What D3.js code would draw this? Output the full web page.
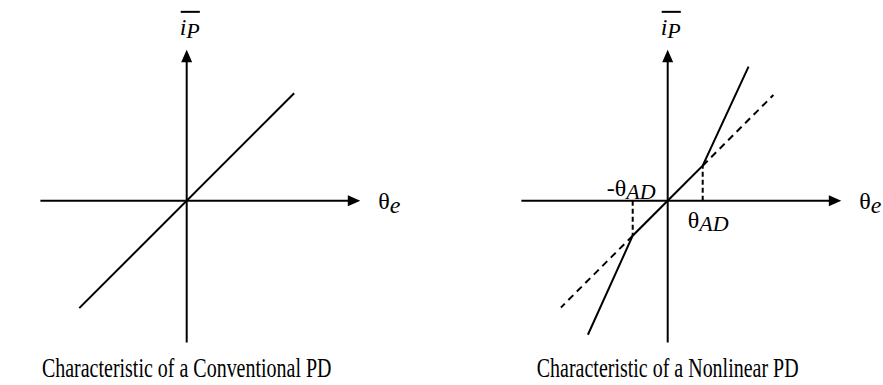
<!DOCTYPE html>
<html>
<head>
<meta charset="utf-8">
<script src="https://cdn.jsdelivr.net/npm/d3@7"></script>
<style>
  html, body { margin: 0; padding: 0; background: #fff; }
  svg { display: block; }
</style>
</head>
<body>
<svg id="chart" width="883" height="385"></svg>
<script>
// Phase-detector characteristics, in units of the dead-zone angle θ_AD.
const xAxisExtent = [-4.18, 4.96];
const yAxisExtent = [-4.05, 4.31];
const thetaAD = 1;

// Conventional PD: a single straight line through the origin.
const conventionalLine = [[-3.07, -3.07], [3.07, 3.07]];

// Nonlinear PD: unit gain inside ±θ_AD, steeper gain outside.
const nonlinearLine = [[-2.28, -3.83], [-thetaAD, -thetaAD], [thetaAD, thetaAD], [2.31, 3.83]];
// Continuation of the unit-gain line (dashed reference).
const dashedRefNeg = [[-thetaAD, -thetaAD], [-3.05, -3.05]];
const dashedRefPos = [[thetaAD, thetaAD], [3.02, 3.02]];
// Drop lines marking ±θ_AD.
const dropLines = [[[-thetaAD, 0], [-thetaAD, -thetaAD]], [[thetaAD, 0], [thetaAD, thetaAD]]];

const captions = ["Characteristic of a Conventional PD", "Characteristic of a Nonlinear PD"];

const FONT = '"Liberation Serif", "Times New Roman", serif';
const svg = d3.select("#chart");
const unit = 35;

function makePanel(originX, originY) {
  const x = d3.scaleLinear().domain([0, 1]).range([originX, originX + unit]);
  const y = d3.scaleLinear().domain([0, 1]).range([originY, originY - unit]);
  return { x, y, g: svg.append("g") };
}

function addText(g, x, y, size) {
  return g.append("text")
    .attr("x", x).attr("y", y)
    .attr("font-family", FONT)
    .attr("font-size", size)
    .attr("fill", "#000");
}

function drawAxes(p) {
  const { x, y, g } = p;
  const x0 = x(xAxisExtent[0]), x1 = x(xAxisExtent[1]);
  const y0 = y(yAxisExtent[0]), y1 = y(yAxisExtent[1]);
  const ah = 12.5, aw = 5.5;
  g.append("line")
    .attr("x1", x0).attr("y1", y(0)).attr("x2", x1 - ah + 1).attr("y2", y(0))
    .attr("stroke", "#000").attr("stroke-width", 2);
  g.append("path")
    .attr("d", `M${x1},${y(0)}L${x1 - ah},${y(0) - aw}L${x1 - ah},${y(0) + aw}Z`)
    .attr("fill", "#000");
  g.append("line")
    .attr("x1", x(0)).attr("y1", y0).attr("x2", x(0)).attr("y2", y1 + ah - 1)
    .attr("stroke", "#000").attr("stroke-width", 2);
  g.append("path")
    .attr("d", `M${x(0)},${y1}L${x(0) - aw},${y1 + ah}L${x(0) + aw},${y1 + ah}Z`)
    .attr("fill", "#000");

  // y-axis label: overlined i_P
  const lab = addText(g, x(0) - 7, y1 - 15, 24).attr("font-style", "italic");
  lab.append("tspan").text("i");
  lab.append("tspan").attr("dy", 3).attr("font-size", 22).text("P");
  const bb = lab.node().getBBox();
  g.append("line")
    .attr("x1", bb.x + 1).attr("x2", bb.x + bb.width)
    .attr("y1", y1 - 38).attr("y2", y1 - 38)
    .attr("stroke", "#000").attr("stroke-width", 2);

  // x-axis label: θ_e
  const xl = addText(g, x1 + 18, y(0) + 8, 24);
  xl.append("tspan").text("θ");
  xl.append("tspan").attr("dy", 4).attr("font-style", "italic").text("e");
}

function drawCaption(p, str) {
  const cg = p.g.append("g")
    .attr("transform", `translate(${p.x(0)},377) scale(0.74,1)`);
  addText(cg, 0, 0, 27).attr("text-anchor", "middle").text(str);
}

const line = d3.line();

// Left panel
const left = makePanel(186.7, 200.7);
drawAxes(left);
left.g.append("path")
  .attr("d", line(conventionalLine.map(d => [left.x(d[0]), left.y(d[1])])))
  .attr("fill", "none").attr("stroke", "#000").attr("stroke-width", 2);
drawCaption(left, captions[0]);

// Right panel
const right = makePanel(667.7, 200.7);
drawAxes(right);
right.g.append("path")
  .attr("d", line(nonlinearLine.map(d => [right.x(d[0]), right.y(d[1])])))
  .attr("fill", "none").attr("stroke", "#000").attr("stroke-width", 2);
[dashedRefNeg, dashedRefPos].forEach(seg => {
  right.g.append("path")
    .attr("d", line(seg.map(d => [right.x(d[0]), right.y(d[1])])))
    .attr("fill", "none").attr("stroke", "#000").attr("stroke-width", 2)
    .attr("stroke-dasharray", "7,5");
});
dropLines.forEach(seg => {
  right.g.append("path")
    .attr("d", line(seg.map(d => [right.x(d[0]), right.y(d[1])])))
    .attr("fill", "none").attr("stroke", "#000").attr("stroke-width", 2)
    .attr("stroke-dasharray", "5,3");
});

// ±θ_AD labels
const negLab = addText(right.g, right.x(-thetaAD) - 26, right.y(0) - 5, 24);
negLab.append("tspan").text("-θ");
negLab.append("tspan").attr("dy", 3).attr("font-style", "italic").attr("font-size", 22).text("AD");

const posLab = addText(right.g, right.x(thetaAD) - 15, right.y(0) + 27, 24);
posLab.append("tspan").text("θ");
posLab.append("tspan").attr("dy", 3).attr("font-style", "italic").attr("font-size", 22).text("AD");

drawCaption(right, captions[1]);
</script>
</body>
</html>
